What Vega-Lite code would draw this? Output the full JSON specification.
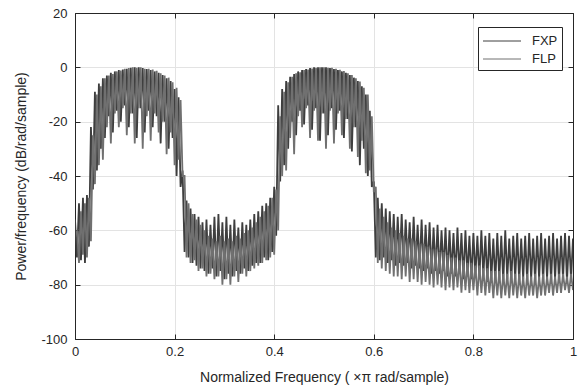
{
  "$schema": "https://vega.github.io/schema/vega-lite/v6.json",
  "width": 498,
  "height": 326,
  "autosize": {"type": "none"},
  "padding": {"left": 75, "top": 13, "right": 7, "bottom": 53},
  "background": "white",
  "config": {
    "font": "Liberation Sans",
    "view": {"stroke": "#262626", "strokeWidth": 1},
    "axis": {
      "labelFont": "Liberation Sans",
      "labelFontSize": 13,
      "labelColor": "#262626",
      "titleFont": "Liberation Sans",
      "titleFontSize": 14,
      "titleFontWeight": "normal",
      "titleColor": "#262626",
      "domainColor": "#262626",
      "tickColor": "#262626",
      "tickSize": -5,
      "gridColor": "#e3e3e3",
      "gridOpacity": 1
    },
    "legend": {
      "labelFont": "Liberation Sans",
      "labelFontSize": 13,
      "labelColor": "#262626"
    }
  },
  "datasets": {
    "fxp": [
{"f":0,"p":-56},{"f":0.004,"p":-70},{"f":0.008,"p":-50},{"f":0.012,"p":-71},{"f":0.016,"p":-48},{"f":0.02,"p":-72},{"f":0.024,"p":-47},{"f":0.028,"p":-66},{"f":0.032,"p":-22},{"f":0.036,"p":-45},
{"f":0.04,"p":-9},{"f":0.044,"p":-38},{"f":0.048,"p":-6},{"f":0.052,"p":-30},{"f":0.056,"p":-4},{"f":0.06,"p":-26},{"f":0.064,"p":-3},{"f":0.068,"p":-18},{"f":0.072,"p":-2},{"f":0.076,"p":-24},
{"f":0.08,"p":-1.5},{"f":0.084,"p":-16},{"f":0.088,"p":-1},{"f":0.092,"p":-20},{"f":0.096,"p":-0.8},{"f":0.1,"p":-14},{"f":0.104,"p":-0.5},{"f":0.108,"p":-22},{"f":0.112,"p":-0.2},{"f":0.116,"p":-17},
{"f":0.12,"p":0},{"f":0.124,"p":-26},{"f":0.128,"p":0},{"f":0.132,"p":-15},{"f":0.136,"p":-0.3},{"f":0.14,"p":-24},{"f":0.144,"p":-0.6},{"f":0.148,"p":-16},{"f":0.152,"p":-1},{"f":0.156,"p":-22},
{"f":0.16,"p":-1.5},{"f":0.164,"p":-18},{"f":0.168,"p":-2},{"f":0.172,"p":-28},{"f":0.176,"p":-2.8},{"f":0.18,"p":-20},{"f":0.184,"p":-4},{"f":0.188,"p":-30},{"f":0.192,"p":-5},{"f":0.196,"p":-26},
{"f":0.2,"p":-8},{"f":0.204,"p":-40},{"f":0.208,"p":-11},{"f":0.212,"p":-44},{"f":0.216,"p":-38},{"f":0.22,"p":-68},{"f":0.224,"p":-49},{"f":0.228,"p":-70},{"f":0.232,"p":-52},{"f":0.236,"p":-72},
{"f":0.24,"p":-54},{"f":0.244,"p":-73},{"f":0.248,"p":-55},{"f":0.252,"p":-74},{"f":0.256,"p":-57},{"f":0.26,"p":-75},{"f":0.264,"p":-56},{"f":0.268,"p":-76},{"f":0.272,"p":-58},{"f":0.276,"p":-74},
{"f":0.28,"p":-55},{"f":0.284,"p":-77},{"f":0.288,"p":-54},{"f":0.292,"p":-75},{"f":0.296,"p":-57},{"f":0.3,"p":-78},{"f":0.304,"p":-55},{"f":0.308,"p":-76},{"f":0.312,"p":-58},{"f":0.316,"p":-77},
{"f":0.32,"p":-56},{"f":0.324,"p":-75},{"f":0.328,"p":-59},{"f":0.332,"p":-76},{"f":0.336,"p":-57},{"f":0.34,"p":-74},{"f":0.344,"p":-58},{"f":0.348,"p":-75},{"f":0.352,"p":-56},{"f":0.356,"p":-73},
{"f":0.36,"p":-54},{"f":0.364,"p":-72},{"f":0.368,"p":-53},{"f":0.372,"p":-72},{"f":0.376,"p":-51},{"f":0.38,"p":-70},{"f":0.384,"p":-50},{"f":0.388,"p":-71},{"f":0.392,"p":-48},{"f":0.396,"p":-68},
{"f":0.4,"p":-44},{"f":0.404,"p":-62},{"f":0.408,"p":-14},{"f":0.412,"p":-42},{"f":0.416,"p":-8},{"f":0.42,"p":-36},{"f":0.424,"p":-5},{"f":0.428,"p":-30},{"f":0.432,"p":-3.5},{"f":0.436,"p":-20},
{"f":0.44,"p":-2.5},{"f":0.444,"p":-25},{"f":0.448,"p":-1.5},{"f":0.452,"p":-16},{"f":0.456,"p":-1},{"f":0.46,"p":-21},{"f":0.464,"p":-0.6},{"f":0.468,"p":-14},{"f":0.472,"p":-0.3},{"f":0.476,"p":-23},
{"f":0.48,"p":0},{"f":0.484,"p":-15},{"f":0.488,"p":0},{"f":0.492,"p":-27},{"f":0.496,"p":0},{"f":0.5,"p":-17},{"f":0.504,"p":0},{"f":0.508,"p":-25},{"f":0.512,"p":-0.3},{"f":0.516,"p":-15},
{"f":0.52,"p":-0.6},{"f":0.524,"p":-23},{"f":0.528,"p":-1},{"f":0.532,"p":-16},{"f":0.536,"p":-1.5},{"f":0.54,"p":-26},{"f":0.544,"p":-2},{"f":0.548,"p":-19},{"f":0.552,"p":-2.8},{"f":0.556,"p":-31},
{"f":0.56,"p":-3.8},{"f":0.564,"p":-22},{"f":0.568,"p":-5},{"f":0.572,"p":-36},{"f":0.576,"p":-7},{"f":0.58,"p":-30},{"f":0.584,"p":-10},{"f":0.588,"p":-40},{"f":0.592,"p":-16},{"f":0.596,"p":-44},
{"f":0.6,"p":-42},{"f":0.604,"p":-70},{"f":0.608,"p":-48},{"f":0.612,"p":-71},{"f":0.616,"p":-50},{"f":0.62,"p":-70},{"f":0.624,"p":-52},{"f":0.628,"p":-72},{"f":0.632,"p":-53},{"f":0.636,"p":-71},
{"f":0.64,"p":-54},{"f":0.644,"p":-73},{"f":0.648,"p":-55},{"f":0.652,"p":-72},{"f":0.656,"p":-54},{"f":0.66,"p":-73},{"f":0.664,"p":-56},{"f":0.668,"p":-72},{"f":0.672,"p":-57},{"f":0.676,"p":-74},
{"f":0.68,"p":-55},{"f":0.684,"p":-73},{"f":0.688,"p":-58},{"f":0.692,"p":-74},{"f":0.696,"p":-56},{"f":0.7,"p":-75},{"f":0.704,"p":-58},{"f":0.708,"p":-74},{"f":0.712,"p":-57},{"f":0.716,"p":-76},
{"f":0.72,"p":-59},{"f":0.724,"p":-75},{"f":0.728,"p":-58},{"f":0.732,"p":-76},{"f":0.736,"p":-60},{"f":0.74,"p":-75},{"f":0.744,"p":-59},{"f":0.748,"p":-77},{"f":0.752,"p":-60},{"f":0.756,"p":-76},
{"f":0.76,"p":-61},{"f":0.764,"p":-77},{"f":0.768,"p":-59},{"f":0.772,"p":-76},{"f":0.776,"p":-61},{"f":0.78,"p":-78},{"f":0.784,"p":-60},{"f":0.788,"p":-77},{"f":0.792,"p":-62},{"f":0.796,"p":-78},
{"f":0.8,"p":-61},{"f":0.804,"p":-77},{"f":0.808,"p":-62},{"f":0.812,"p":-78},{"f":0.816,"p":-60},{"f":0.82,"p":-77},{"f":0.824,"p":-62},{"f":0.828,"p":-79},{"f":0.832,"p":-61},{"f":0.836,"p":-78},
{"f":0.84,"p":-63},{"f":0.844,"p":-79},{"f":0.848,"p":-61},{"f":0.852,"p":-78},{"f":0.856,"p":-62},{"f":0.86,"p":-79},{"f":0.864,"p":-60},{"f":0.868,"p":-78},{"f":0.872,"p":-63},{"f":0.876,"p":-79},
{"f":0.88,"p":-62},{"f":0.884,"p":-78},{"f":0.888,"p":-61},{"f":0.892,"p":-79},{"f":0.896,"p":-63},{"f":0.9,"p":-78},{"f":0.904,"p":-62},{"f":0.908,"p":-79},{"f":0.912,"p":-61},{"f":0.916,"p":-78},
{"f":0.92,"p":-63},{"f":0.924,"p":-79},{"f":0.928,"p":-62},{"f":0.932,"p":-78},{"f":0.936,"p":-61},{"f":0.94,"p":-79},{"f":0.944,"p":-63},{"f":0.948,"p":-78},{"f":0.952,"p":-62},{"f":0.956,"p":-79},
{"f":0.96,"p":-61},{"f":0.964,"p":-78},{"f":0.968,"p":-63},{"f":0.972,"p":-79},{"f":0.976,"p":-62},{"f":0.98,"p":-78},{"f":0.984,"p":-61},{"f":0.988,"p":-79},{"f":0.992,"p":-62},{"f":0.996,"p":-78},
{"f":1,"p":-63}
    ],
    "flp": [
{"f":0.004,"p":-60},{"f":0.008,"p":-72},{"f":0.012,"p":-53},{"f":0.016,"p":-69},{"f":0.02,"p":-50},{"f":0.024,"p":-70},{"f":0.028,"p":-48},{"f":0.032,"p":-64},{"f":0.036,"p":-25},{"f":0.04,"p":-43},
{"f":0.044,"p":-10},{"f":0.048,"p":-36},{"f":0.052,"p":-7},{"f":0.056,"p":-34},{"f":0.06,"p":-4},{"f":0.064,"p":-22},{"f":0.068,"p":-3},{"f":0.072,"p":-28},{"f":0.076,"p":-2.5},{"f":0.08,"p":-17},
{"f":0.084,"p":-1.5},{"f":0.088,"p":-22},{"f":0.092,"p":-1.2},{"f":0.096,"p":-15},{"f":0.1,"p":-0.5},{"f":0.104,"p":-25},{"f":0.108,"p":-0.3},{"f":0.112,"p":-17},{"f":0.116,"p":0},{"f":0.12,"p":-28},
{"f":0.124,"p":-0.2},{"f":0.128,"p":-15},{"f":0.132,"p":0},{"f":0.136,"p":-30},{"f":0.14,"p":-0.5},{"f":0.144,"p":-18},{"f":0.148,"p":-0.5},{"f":0.152,"p":-27},{"f":0.156,"p":-0.8},{"f":0.16,"p":-17},
{"f":0.164,"p":-1.3},{"f":0.168,"p":-24},{"f":0.172,"p":-2.2},{"f":0.176,"p":-20},{"f":0.18,"p":-3},{"f":0.184,"p":-32},{"f":0.188,"p":-3.8},{"f":0.192,"p":-24},{"f":0.196,"p":-5.5},{"f":0.2,"p":-36},
{"f":0.204,"p":-7.5},{"f":0.208,"p":-34},{"f":0.212,"p":-12},{"f":0.216,"p":-40},{"f":0.22,"p":-40},{"f":0.224,"p":-70},{"f":0.228,"p":-50},{"f":0.232,"p":-72},{"f":0.236,"p":-54},{"f":0.24,"p":-71},
{"f":0.244,"p":-56},{"f":0.248,"p":-75},{"f":0.252,"p":-58},{"f":0.256,"p":-74},{"f":0.26,"p":-60},{"f":0.264,"p":-77},{"f":0.268,"p":-62},{"f":0.272,"p":-76},{"f":0.276,"p":-63},{"f":0.28,"p":-78},
{"f":0.284,"p":-64},{"f":0.288,"p":-77},{"f":0.292,"p":-62},{"f":0.296,"p":-80},{"f":0.3,"p":-64},{"f":0.304,"p":-78},{"f":0.308,"p":-63},{"f":0.312,"p":-80},{"f":0.316,"p":-64},{"f":0.32,"p":-77},
{"f":0.324,"p":-62},{"f":0.328,"p":-79},{"f":0.332,"p":-63},{"f":0.336,"p":-76},{"f":0.34,"p":-61},{"f":0.344,"p":-77},{"f":0.348,"p":-60},{"f":0.352,"p":-75},{"f":0.356,"p":-59},{"f":0.36,"p":-74},
{"f":0.364,"p":-57},{"f":0.368,"p":-73},{"f":0.372,"p":-55},{"f":0.376,"p":-72},{"f":0.38,"p":-53},{"f":0.384,"p":-71},{"f":0.388,"p":-51},{"f":0.392,"p":-70},{"f":0.396,"p":-48},{"f":0.4,"p":-69},
{"f":0.404,"p":-45},{"f":0.408,"p":-60},{"f":0.412,"p":-18},{"f":0.416,"p":-40},{"f":0.42,"p":-9},{"f":0.424,"p":-38},{"f":0.428,"p":-5.5},{"f":0.432,"p":-26},{"f":0.436,"p":-3.5},{"f":0.44,"p":-32},
{"f":0.444,"p":-2.2},{"f":0.448,"p":-18},{"f":0.452,"p":-1.8},{"f":0.456,"p":-22},{"f":0.46,"p":-1},{"f":0.464,"p":-15},{"f":0.468,"p":-0.8},{"f":0.472,"p":-26},{"f":0.476,"p":-0.4},{"f":0.48,"p":-16},
{"f":0.484,"p":-0.2},{"f":0.488,"p":-27},{"f":0.492,"p":0},{"f":0.496,"p":-17},{"f":0.5,"p":0},{"f":0.504,"p":-30},{"f":0.508,"p":-0.2},{"f":0.512,"p":-16},{"f":0.516,"p":-0.2},{"f":0.52,"p":-28},
{"f":0.524,"p":-0.5},{"f":0.528,"p":-17},{"f":0.532,"p":-0.9},{"f":0.536,"p":-25},{"f":0.54,"p":-1.4},{"f":0.544,"p":-19},{"f":0.548,"p":-2.2},{"f":0.552,"p":-30},{"f":0.556,"p":-2.8},{"f":0.56,"p":-22},
{"f":0.564,"p":-4},{"f":0.568,"p":-33},{"f":0.572,"p":-5.2},{"f":0.576,"p":-27},{"f":0.58,"p":-7.5},{"f":0.584,"p":-39},{"f":0.588,"p":-10},{"f":0.592,"p":-38},{"f":0.596,"p":-18},{"f":0.6,"p":-46},
{"f":0.604,"p":-44},{"f":0.608,"p":-72},{"f":0.612,"p":-52},{"f":0.616,"p":-74},{"f":0.62,"p":-55},{"f":0.624,"p":-75},{"f":0.628,"p":-57},{"f":0.632,"p":-76},{"f":0.636,"p":-59},{"f":0.64,"p":-77},
{"f":0.644,"p":-60},{"f":0.648,"p":-77},{"f":0.652,"p":-61},{"f":0.656,"p":-78},{"f":0.66,"p":-62},{"f":0.664,"p":-77},{"f":0.668,"p":-63},{"f":0.672,"p":-79},{"f":0.676,"p":-63},{"f":0.68,"p":-78},
{"f":0.684,"p":-64},{"f":0.688,"p":-79},{"f":0.692,"p":-65},{"f":0.696,"p":-80},{"f":0.7,"p":-65},{"f":0.704,"p":-79},{"f":0.708,"p":-66},{"f":0.712,"p":-80},{"f":0.716,"p":-67},{"f":0.72,"p":-81},
{"f":0.724,"p":-67},{"f":0.728,"p":-80},{"f":0.732,"p":-68},{"f":0.736,"p":-81},{"f":0.74,"p":-68},{"f":0.744,"p":-82},{"f":0.748,"p":-69},{"f":0.752,"p":-81},{"f":0.756,"p":-70},{"f":0.76,"p":-82},
{"f":0.764,"p":-70},{"f":0.768,"p":-81},{"f":0.772,"p":-71},{"f":0.776,"p":-83},{"f":0.78,"p":-71},{"f":0.784,"p":-82},{"f":0.788,"p":-72},{"f":0.792,"p":-83},{"f":0.796,"p":-72},{"f":0.8,"p":-82},
{"f":0.804,"p":-73},{"f":0.808,"p":-84},{"f":0.812,"p":-73},{"f":0.816,"p":-83},{"f":0.82,"p":-74},{"f":0.824,"p":-84},{"f":0.828,"p":-74},{"f":0.832,"p":-83},{"f":0.836,"p":-75},{"f":0.84,"p":-85},
{"f":0.844,"p":-75},{"f":0.848,"p":-84},{"f":0.852,"p":-75},{"f":0.856,"p":-85},{"f":0.86,"p":-76},{"f":0.864,"p":-84},{"f":0.868,"p":-76},{"f":0.872,"p":-85},{"f":0.876,"p":-75},{"f":0.88,"p":-84},
{"f":0.884,"p":-76},{"f":0.888,"p":-85},{"f":0.892,"p":-76},{"f":0.896,"p":-84},{"f":0.9,"p":-77},{"f":0.904,"p":-85},{"f":0.908,"p":-76},{"f":0.912,"p":-84},{"f":0.916,"p":-77},{"f":0.92,"p":-84},
{"f":0.924,"p":-76},{"f":0.928,"p":-85},{"f":0.932,"p":-77},{"f":0.936,"p":-84},{"f":0.94,"p":-76},{"f":0.944,"p":-84},{"f":0.948,"p":-77},{"f":0.952,"p":-83},{"f":0.956,"p":-76},{"f":0.96,"p":-84},
{"f":0.964,"p":-77},{"f":0.968,"p":-83},{"f":0.972,"p":-76},{"f":0.976,"p":-83},{"f":0.98,"p":-76},{"f":0.984,"p":-82},{"f":0.988,"p":-77},{"f":0.992,"p":-83},{"f":0.996,"p":-76},{"f":1,"p":-82}
    ]
  },
  "layer": [
    {
      "data": {"name": "fxp"},
      "transform": [{"calculate": "'FXP'", "as": "series"}],
      "mark": {"type": "line", "strokeWidth": 1.8, "clip": true},
      "encoding": {
        "x": {
          "field": "f", "type": "quantitative",
          "scale": {"domain": [0, 1], "nice": false, "zero": false},
          "axis": {"orient": "bottom", "values": [0, 0.2, 0.4, 0.6, 0.8, 1], "format": "~g", "grid": true, "title": "Normalized Frequency  ( \u00d7\u03c0 rad/sample)", "labelPadding": 11, "titlePadding": 12, "labelFlush": false}
        },
        "y": {
          "field": "p", "type": "quantitative",
          "scale": {"domain": [-100, 20], "nice": false, "zero": false},
          "axis": {"orient": "left", "values": [-100, -80, -60, -40, -20, 0, 20], "labelExpr": "replace(datum.label, '\u2212', '-')", "grid": true, "title": "Power/frequency (dB/rad/sample)", "labelPadding": 13, "titlePadding": 12}
        },
        "color": {
          "field": "series", "type": "nominal",
          "scale": {"domain": ["FXP", "FLP"], "range": ["#3e3e3e", "#707070"]},
          "legend": {
            "title": null, "orient": "none", "legendX": 403, "legendY": 14,
            "strokeColor": "#262626", "fillColor": "white", "padding": 4,
            "symbolType": "M-2,0H2", "symbolSize": 361, "symbolStrokeWidth": 1,
            "symbolOffset": 10, "labelOffset": 20, "rowPadding": 1
          }
        }
      }
    },
    {
      "data": {"name": "flp"},
      "transform": [{"calculate": "'FLP'", "as": "series"}],
      "mark": {"type": "line", "strokeWidth": 1.8, "clip": true},
      "encoding": {
        "x": {
          "field": "f", "type": "quantitative",
          "axis": {"orient": "top", "values": [0, 0.2, 0.4, 0.6, 0.8, 1], "grid": false, "labels": false, "title": null}
        },
        "y": {
          "field": "p", "type": "quantitative",
          "axis": {"orient": "right", "values": [-100, -80, -60, -40, -20, 0, 20], "grid": false, "labels": false, "title": null}
        },
        "color": {"field": "series", "type": "nominal"}
      }
    }
  ],
  "resolve": {"axis": {"x": "independent", "y": "independent"}}
}
